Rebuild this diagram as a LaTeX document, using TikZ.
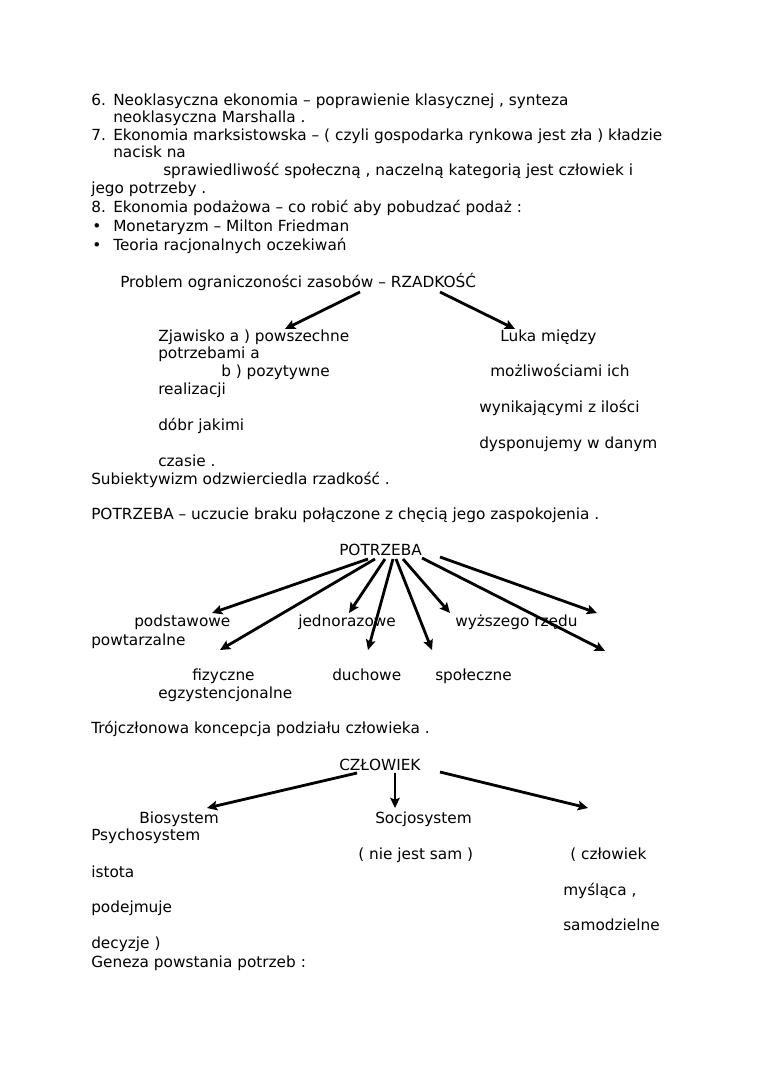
\documentclass[tikz,border=0pt]{standalone}
\usepackage{fontspec}
\setmainfont{DejaVu Sans}
\usetikzlibrary{arrows.meta}
\tikzset{
	txt/.style={anchor=base west, inner sep=0pt, font=\fontsize{12}{14}\selectfont},
	strz/.style={-{Stealth[length=8pt, width=7.5pt, inset=1.5pt]}, line width=2.2pt},
}
\begin{document}
\begin{tikzpicture}[x=0.783pt, y=-0.783pt]
				\useasboundingbox (0,0) rectangle (760,1075);
				% lista punktow
				\node[txt] (n6) at (91,105) {6.};
				\node[txt] (t6a) at (113,105) {Neoklasyczna ekonomia – poprawienie klasycznej , synteza};
				\node[txt] (t6b) at (113,122) {neoklasyczna Marshalla .};
				\node[txt] (n7) at (91,140) {7.};
				\node[txt] (t7a) at (113,140) {Ekonomia marksistowska – ( czyli gospodarka rynkowa jest zła ) kładzie};
				\node[txt] (t7b) at (113,157) {nacisk na};
				\node[txt] (t7c) at (163,175) {sprawiedliwość społeczną , naczelną kategorią jest człowiek i};
				\node[txt] (t7d) at (91,193) {jego potrzeby .};
				\node[txt] (n8) at (91,212) {8.};
				\node[txt] (t8a) at (113,212) {Ekonomia podażowa – co robić aby pobudzać podaż :};
				\node[txt] (b1) at (92,231) {•};
				\node[txt] (t8b) at (113,231) {Monetaryzm – Milton Friedman};
				\node[txt] (b2) at (92,250) {•};
				\node[txt] (t8c) at (113,250) {Teoria racjonalnych oczekiwań};
				
				% rzadkosc
				\node[txt] (rzadkosc) at (120,287) {Problem ograniczoności zasobów – RZADKOŚĆ};
				\node[txt] (zjaw1) at (158,341) {Zjawisko a ) powszechne};
				\node[txt] (zjaw2) at (158,358) {potrzebami a};
				\node[txt] (zjaw3) at (221,376) {b ) pozytywne};
				\node[txt] (zjaw4) at (158,394) {realizacji};
				\node[txt] (zjaw5) at (158,430) {dóbr jakimi};
				\node[txt] (zjaw6) at (158,466) {czasie .};
				\node[txt] (luka1) at (500,341) {Luka między};
				\node[txt] (luka2) at (490,376) {możliwościami ich};
				\node[txt] (luka3) at (479,412) {wynikającymi z ilości};
				\node[txt] (luka4) at (479,448) {dysponujemy w danym};
				\node[txt] (subiekt) at (91,484) {Subiektywizm odzwierciedla rzadkość .};
				\coordinate (rz1) at (360,292);
				\coordinate (rz2) at (440,292);
				\coordinate (zjawA) at (285,329);
				\coordinate (lukaA) at (515,329);
				\draw[strz] (rz1) -- (zjawA);
				\draw[strz] (rz2) -- (lukaA);
				
				% potrzeba
				\node[txt] (defpotrz) at (91,519) {POTRZEBA – uczucie braku połączone z chęcią jego zaspokojenia .};
				\node[txt] (potrzeba) at (339,555) {POTRZEBA};
				\node[txt] (podst) at (134,626) {podstawowe};
				\node[txt] (jedn) at (298,626) {jednorazowe};
				\node[txt] (wyzsz) at (455,626) {wyższego rzędu};
				\node[txt] (powt) at (91,645) {powtarzalne};
				\node[txt] (fiz) at (192,680) {fizyczne};
				\node[txt] (duch) at (332,680) {duchowe};
				\node[txt] (spol) at (435,680) {społeczne};
				\node[txt] (egz) at (158,698) {egzystencjonalne};
				\coordinate (po1) at (368,559);
				\coordinate (po2) at (375,559);
				\coordinate (po3) at (385,559);
				\coordinate (po4) at (393,559);
				\coordinate (po5) at (396,559);
				\coordinate (po6) at (403,559);
				\coordinate (po7) at (422,558);
				\coordinate (po8) at (440,557);
				\coordinate (podstA) at (212,613);
				\coordinate (fizA) at (220,650);
				\coordinate (jednA) at (349,613);
				\coordinate (duchA) at (368,650);
				\coordinate (spolA) at (432,650);
				\coordinate (wyzszA) at (450,613);
				\coordinate (powtA) at (605,651);
				\coordinate (egzA) at (597,613);
				\draw[strz] (po1) -- (podstA);
				\draw[strz] (po2) -- (fizA);
				\draw[strz] (po3) -- (jednA);
				\draw[strz] (po4) -- (duchA);
				\draw[strz] (po5) -- (spolA);
				\draw[strz] (po6) -- (wyzszA);
				\draw[strz] (po7) -- (powtA);
				\draw[strz] (po8) -- (egzA);
				
				% czlowiek
				\node[txt] (trojcz) at (91,733) {Trójczłonowa koncepcja podziału człowieka .};
				\node[txt] (czlowiek) at (339,770) {CZŁOWIEK};
				\node[txt] (bio) at (139,823) {Biosystem};
				\node[txt] (socjo) at (375,823) {Socjosystem};
				\node[txt] (psycho) at (91,840) {Psychosystem};
				\node[txt] (sam) at (358,859) {( nie jest sam )};
				\node[txt] (czl2) at (570,859) {( człowiek};
				\node[txt] (istota) at (91,877) {istota};
				\node[txt] (mysl) at (563,895) {myśląca ,};
				\node[txt] (podej) at (91,912) {podejmuje};
				\node[txt] (samodz) at (563,930) {samodzielne};
				\node[txt] (decyz) at (91,948) {decyzje )};
				\node[txt] (geneza) at (91,967) {Geneza powstania potrzeb :};
				\coordinate (cz1) at (357,773);
				\coordinate (cz2) at (395,773);
				\coordinate (cz3) at (440,772);
				\coordinate (bioA) at (207,808);
				\coordinate (socjoA) at (395,808);
				\coordinate (psychoA) at (588,808);
				\draw[strz] (cz1) -- (bioA);
				\draw[strz] (cz2) -- (socjoA);
				\draw[strz] (cz3) -- (psychoA);
\end{tikzpicture}
\end{document}
